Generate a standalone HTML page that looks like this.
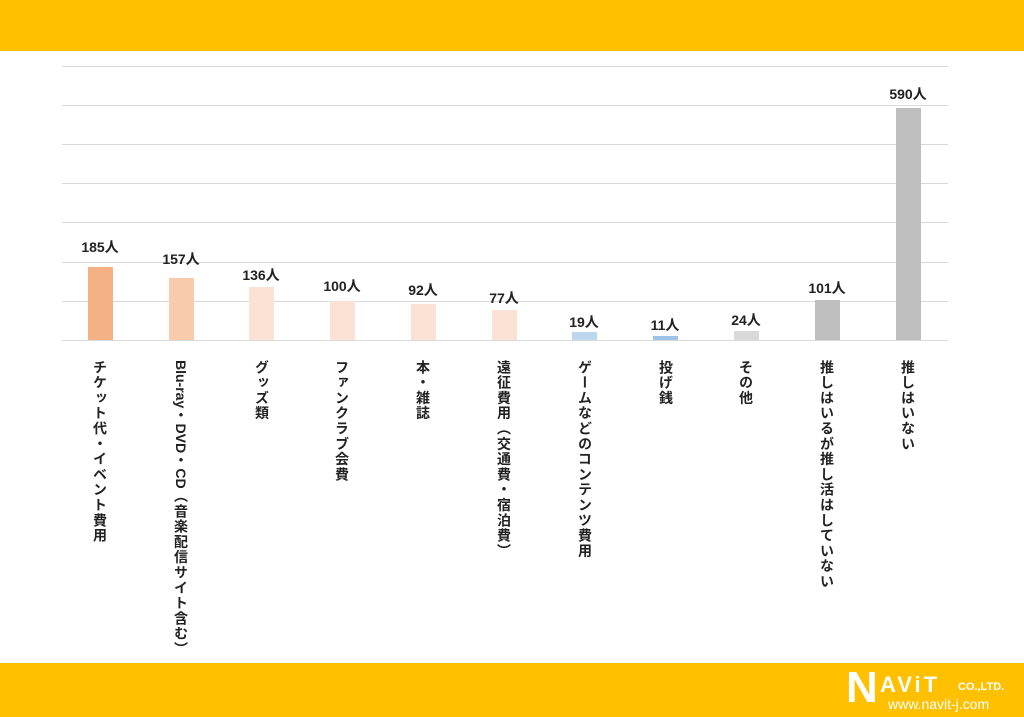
<!DOCTYPE html>
<html><head><meta charset="utf-8"><style>
body{margin:0;width:1024px;height:717px;position:relative;background:#fff;overflow:hidden;font-family:"Liberation Sans","Noto Sans CJK JP",sans-serif}
.bar{position:absolute;width:25px;bottom:377px}
.g{position:absolute;left:62px;width:886px;height:1px;background:#d9d9d9}
.v{position:absolute;width:80px;text-align:center;font-size:14px;font-weight:bold;color:#222}
.c{position:absolute;top:360px;writing-mode:vertical-rl;font-size:14px;letter-spacing:1.3px;font-weight:bold;color:#222;line-height:16px}
</style></head><body>
<div style="position:absolute;left:0;top:0;width:1024px;height:51px;background:#ffc000"></div>
<div style="position:absolute;left:0;top:663px;width:1024px;height:54px;background:#ffc000"></div>
<div style="position:absolute;left:846px;top:664px;color:#fff;font-weight:bold;font-size:44px;line-height:48px">N</div>
<div style="position:absolute;left:880px;top:672px;color:#fff;font-weight:bold;font-size:22px;letter-spacing:3px">AViT</div>
<div style="position:absolute;left:958px;top:681px;color:#fff;font-weight:bold;font-size:11px">CO.,LTD.</div>
<div style="position:absolute;left:888px;top:696px;color:#fff;font-size:14px">www.navit-j.com</div>
<div class="g" style="top:66px"></div><div class="g" style="top:105px"></div><div class="g" style="top:144px"></div><div class="g" style="top:183px"></div><div class="g" style="top:222px"></div><div class="g" style="top:262px"></div><div class="g" style="top:301px"></div><div class="g" style="top:340px"></div>

<div class="bar" style="left:88px;height:73px;background:#f4b183"></div>
<div class="bar" style="left:169px;height:62px;background:#f8cbad"></div>
<div class="bar" style="left:249px;height:53px;background:#fbe2d5"></div>
<div class="bar" style="left:330px;height:39px;background:#fbe2d5"></div>
<div class="bar" style="left:411px;height:36px;background:#fbe2d5"></div>
<div class="bar" style="left:492px;height:30px;background:#fbe2d5"></div>
<div class="bar" style="left:572px;height:8px;background:#bdd7ee"></div>
<div class="bar" style="left:653px;height:4px;background:#9dc3e6"></div>
<div class="bar" style="left:734px;height:9px;background:#d9d9d9"></div>
<div class="bar" style="left:815px;height:40px;background:#bfbfbf"></div>
<div class="bar" style="left:896px;height:232px;background:#bfbfbf"></div>

<div class="v" style="left:60px;top:237px">185人</div>
<div class="v" style="left:141px;top:249px">157人</div>
<div class="v" style="left:221px;top:265px">136人</div>
<div class="v" style="left:302px;top:276px">100人</div>
<div class="v" style="left:383px;top:280px">92人</div>
<div class="v" style="left:464px;top:288px">77人</div>
<div class="v" style="left:544px;top:312px">19人</div>
<div class="v" style="left:625px;top:315px">11人</div>
<div class="v" style="left:706px;top:310px">24人</div>
<div class="v" style="left:787px;top:278px">101人</div>
<div class="v" style="left:868px;top:84px">590人</div>

<div class="c" style="left:92px">チケット代・イベント費用</div>
<div class="c" style="left:173px"><span style="letter-spacing:0">Blu-ray</span>・<span style="letter-spacing:0">DVD</span>・<span style="letter-spacing:0">CD</span>（音楽配信サイト含む）</div>
<div class="c" style="left:254px">グッズ類</div>
<div class="c" style="left:334px">ファンクラブ会費</div>
<div class="c" style="left:415px">本・雑誌</div>
<div class="c" style="left:496px">遠征費用（交通費・宿泊費）</div>
<div class="c" style="left:577px">ゲームなどのコンテンツ費用</div>
<div class="c" style="left:658px">投げ銭</div>
<div class="c" style="left:738px">その他</div>
<div class="c" style="left:819px">推しはいるが推し活はしていない</div>
<div class="c" style="left:900px">推しはいない</div>
</body></html>
